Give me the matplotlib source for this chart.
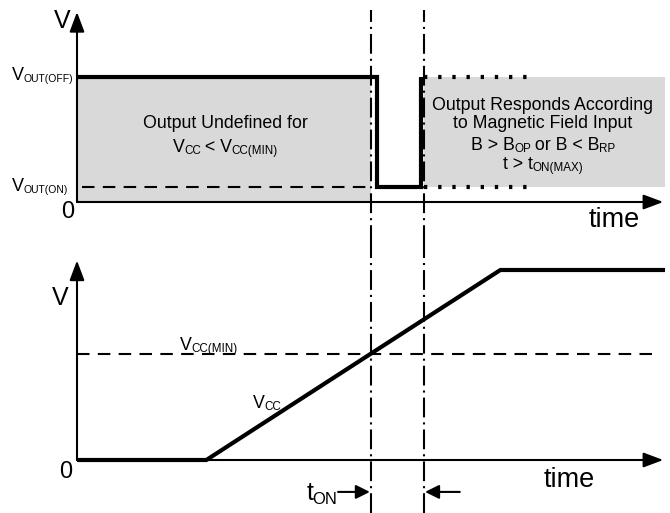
import matplotlib
matplotlib.use("Agg")
import matplotlib.pyplot as plt
from matplotlib.patches import Rectangle

plt.rcParams['font.family'] = ['Liberation Sans', 'DejaVu Sans']

# ---------------- data (time in arbitrary units, voltages normalised) -------------
t_end = 100.0
t_on = 50.0            # V_CC reaches V_CC(MIN)
t_on_max = 59.0        # end of power-on time
out_t = [0, 51, 51, 58.5, 58.5]          # output waveform
out_v = [1.0, 1.0, 0.12, 0.12, 1.0]
v_out_off = 1.0
v_out_on = 0.12
resp_t = [59.0, 77.0]                    # dotted "responds" region
vcc_t = [0, 22, 72, 100]                 # supply ramp
vcc_v = [0, 0, 1.0, 1.0]
vcc_min = 0.56

# ---------------- layout ----------------
W, H = 670, 513
fig = plt.figure(figsize=(W / 100, H / 100), dpi=100)
PX_T = 5.88
X0 = 77
split = 245
ax1 = fig.add_axes([0, 1 - split / H, 1, split / H])
ax2 = fig.add_axes([0, 0, 1, 1 - split / H])
for a in (ax1, ax2):
    a.set_xlim(-X0 / PX_T, (W - X0) / PX_T)
    a.axis('off')
ax1.set_ylim(-(split - 202) / 125, 202 / 125)
ax2.set_ylim(-(H - 460) / 190, (460 - split) / 190)

BIG, SMALL = 12.8, 8.4
GRAY = '#d9d9d9'
THICK = 3.0
AXW = 1.5
DASHDOT = (0, (9.5, 2.4, 1.0, 2.4))
renderer = fig.canvas.get_renderer()
PT = 72 / 100.0


def rich(ax, parts, x, y, ha='center', big=BIG, small=SMALL, drop=1.5, gap=-0.4):
    widths = []
    for s, sub in parts:
        tmp = ax.text(0, 0, s, fontsize=(small if sub else big))
        widths.append(tmp.get_window_extent(renderer).width * PT)
        tmp.remove()
    total = sum(widths) + gap * (len(parts) - 1)
    off = {'left': 0.0, 'center': -total / 2, 'right': -total}[ha]
    for (s, sub), w in zip(parts, widths):
        ax.annotate(s, (x, y), xytext=(off, -drop if sub else 0),
                    textcoords='offset points', fontsize=(small if sub else big),
                    ha='left', va='baseline', annotation_clip=False)
        off += w + gap


def arrow(ax, tail, tip, lw=AXW, hl=0.8, hw=0.3, ms=15):
    ax.annotate('', xy=tip, xytext=tail, xycoords='data',
                arrowprops=dict(arrowstyle=f'-|>,head_length={hl},head_width={hw}',
                                lw=lw, color='k', shrinkA=0, shrinkB=0,
                                mutation_scale=ms), annotation_clip=False)


# ---------------- top panel: output ----------------
ax1.add_patch(Rectangle((0, 0), t_on, v_out_off, fc=GRAY, ec='none', zorder=1))
ax1.add_patch(Rectangle((resp_t[0], v_out_on), t_end - resp_t[0],
                        v_out_off - v_out_on, fc=GRAY, ec='none', zorder=1))
ax1.plot([0, t_on], [v_out_on, v_out_on], color='k', lw=AXW, ls=(7.6, (6, 4)), zorder=2)
for v in (v_out_off, v_out_on):
    ax1.plot(resp_t, [v, v], color='k', lw=THICK, ls=(0, (0.8, 2.6)), zorder=3)
ax1.plot(out_t, out_v, color='k', lw=THICK, solid_joinstyle='miter',
         solid_capstyle='butt', zorder=4)
arrow(ax1, (0, 0), (0, 1.52))
arrow(ax1, (0, 0), (99.7, 0))
for tt in (t_on, t_on_max):
    ax1.axvline(tt, ymin=0, ymax=(split - 10) / split, color='k', lw=AXW,
                ls=DASHDOT, zorder=5)

ax1.text(-2.55, 1.392, 'V', fontsize=18, ha='center', va='baseline')
ax1.text(-1.53, -0.128, '0', fontsize=17, ha='center', va='baseline')
ax1.text(91.3, -0.20, 'time', fontsize=19.5, ha='center', va='baseline')
rich(ax1, [('V', False), ('OUT(OFF)', True)], -11.0, 0.976, ha='left', big=13, small=7.5)
rich(ax1, [('V', False), ('OUT(ON)', True)], -11.0, 0.088, ha='left', big=13, small=7.5)
rich(ax1, [('Output Undefined for', False)], 25.2, 0.592)
rich(ax1, [('V', False), ('CC', True), (' < V', False), ('CC(MIN)', True)], 25.2, 0.40)
rich(ax1, [('Output Responds According', False)], 79.25, 0.736)
rich(ax1, [('to Magnetic Field Input', False)], 79.25, 0.592)
rich(ax1, [('B > B', False), ('OP', True), (' or B < B', False), ('RP', True)], 79.25, 0.416)
rich(ax1, [('t > t', False), ('ON(MAX)', True)], 79.25, 0.264)

# ---------------- bottom panel: supply ----------------
ax2.plot([0, 99], [vcc_min, vcc_min], color='k', lw=AXW, ls=(0, (6, 4)), zorder=2)
arrow(ax2, (0, 0), (0, 1.05))
arrow(ax2, (0, 0), (99.7, 0))
ax2.plot(vcc_t, vcc_v, color='k', lw=THICK, solid_joinstyle='miter',
         solid_capstyle='butt', zorder=4)
for tt in (t_on, t_on_max):
    ax2.axvline(tt, ymin=0, ymax=1, color='k', lw=AXW, ls=DASHDOT, zorder=5)

ax2.text(-2.89, 0.816, 'V', fontsize=18, ha='center', va='baseline')
ax2.text(-1.87, -0.095, '0', fontsize=17, ha='center', va='baseline')
ax2.text(83.8, -0.142, 'time', fontsize=19.5, ha='center', va='baseline')
rich(ax2, [('V', False), ('CC(MIN)', True)], 17.5, 0.579, ha='left')
rich(ax2, [('V', False), ('CC', True)], 29.9, 0.274, ha='left')
rich(ax2, [('t', False), ('ON', True)], 44.3, -0.21, ha='right', big=18, small=12, drop=3.0)
arrow(ax2, (44.4, -0.168), (t_on - 0.2, -0.168), lw=1.5, hl=0.7, hw=0.35, ms=12)
arrow(ax2, (65.1, -0.168), (t_on_max + 0.2, -0.168), lw=1.5, hl=0.7, hw=0.35, ms=12)

fig.savefig('out.png', dpi=100)
